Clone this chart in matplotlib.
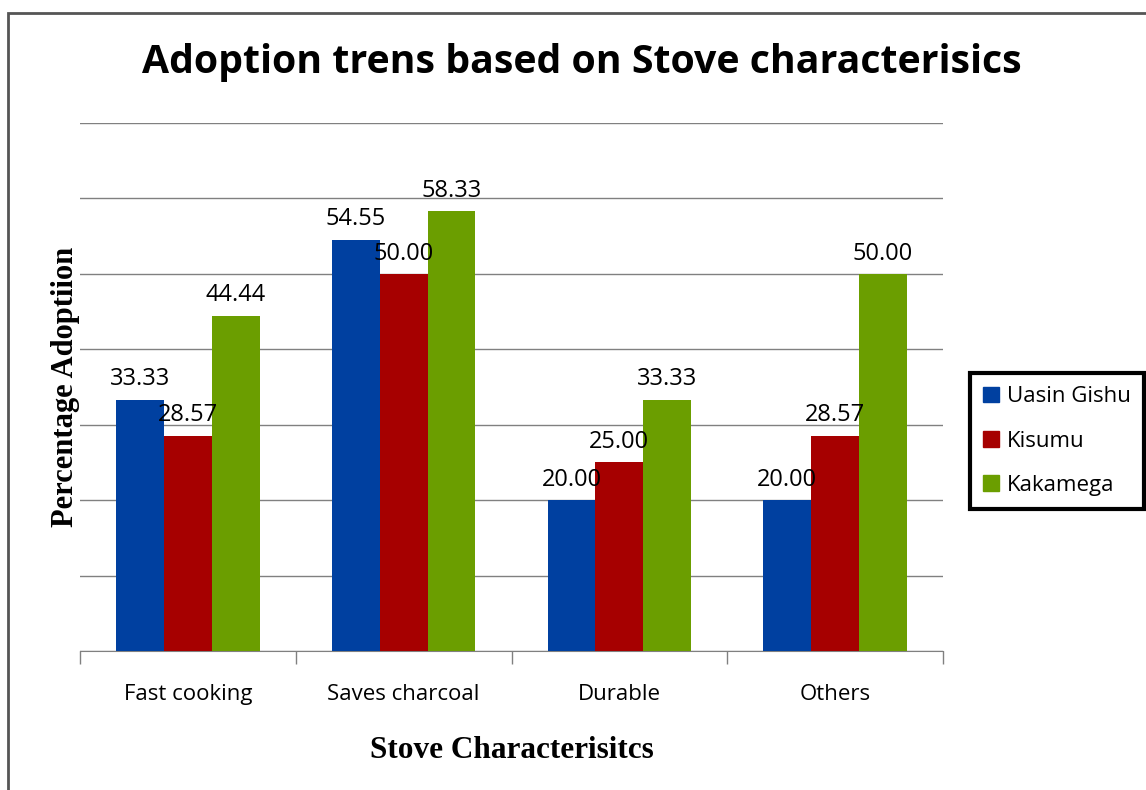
import numpy as np
import matplotlib.pyplot as plt
from matplotlib.patches import Patch, Rectangle

categories = ['Fast cooking', 'Saves charcoal', 'Durable', 'Others']
regions = ['Uasin Gishu', 'Kisumu', 'Kakamega']
uasin_gishu = [33.33, 54.55, 20.00, 20.00]
kisumu = [28.57, 50.00, 25.00, 28.57]
kakamega = [44.44, 58.33, 33.33, 50.00]
colors = ['#0040A0', '#A60000', '#6B9E00']

fig = plt.figure(figsize=(11.46, 7.90), dpi=100)
ax = fig.add_axes([80 / 1146, 1 - 651 / 790, 863 / 1146, 528 / 790])

# outer chart frame, cut off at right and bottom
fig.patches.append(Rectangle((8 / 1146, -0.05), 1.2, 1 - 13 / 790 + 0.05,
                             transform=fig.transFigure, fill=False,
                             edgecolor='#555555', linewidth=2))

x = np.arange(len(categories))
w = 0.222
series = [uasin_gishu, kisumu, kakamega]
for i, (vals, col) in enumerate(zip(series, colors)):
    pos = x + (i - 1) * w
    ax.bar(pos, vals, width=w, color=col, zorder=3)
    for px, v in zip(pos, vals):
        ax.annotate(f'{v:.2f}', (px, v), xytext=(0, 6), textcoords='offset points',
                    ha='center', va='bottom', fontsize=17, family='Open Sans', zorder=4)

ax.set_xlim(-0.5, len(categories) - 0.5)
ax.set_ylim(0, 70)
ax.set_yticks(np.arange(0, 71, 10))
ax.set_yticklabels([])
ax.tick_params(axis='y', length=0)
ax.grid(axis='y', color='#808080', linewidth=1, zorder=0)

ax.set_xticks(x)
ax.set_xticklabels(categories, fontsize=16, family='Open Sans')
ax.tick_params(axis='x', which='major', length=0, pad=24)
ax.set_xticks(np.arange(-0.5, len(categories)), minor=True)
ax.tick_params(axis='x', which='minor', length=9, color='#808080', width=1)

for s in ['left', 'right', 'top']:
    ax.spines[s].set_visible(False)
ax.spines['bottom'].set_color('#808080')

ax.set_xlabel('Stove Characterisitcs', fontsize=22.5, fontweight='bold',
              family='Liberation Serif', labelpad=22)
ax.set_ylabel('Percentage Adoptiion', fontsize=22, fontweight='bold',
              family='Liberation Serif', labelpad=-3.5)

fig.text(582 / 1146, 1 - 63 / 790, 'Adoption trens based on Stove characterisics',
         ha='center', va='center', fontsize=28.3, fontweight='bold', family='Open Sans')

handles = [Patch(color=c, label=r) for c, r in zip(colors, regions)]
leg = fig.legend(handles=handles, loc='upper left',
                 bbox_to_anchor=(970 / 1146, 1 - 373 / 790),
                 prop={'family': 'Open Sans', 'size': 16},
                 handlelength=0.7, handleheight=0.7, handletextpad=0.35,
                 labelspacing=1.05, borderpad=0.6, borderaxespad=0,
                 fancybox=False, framealpha=1, edgecolor='black')
leg.get_frame().set_linewidth(3)

fig.savefig('out.png', dpi=100)
